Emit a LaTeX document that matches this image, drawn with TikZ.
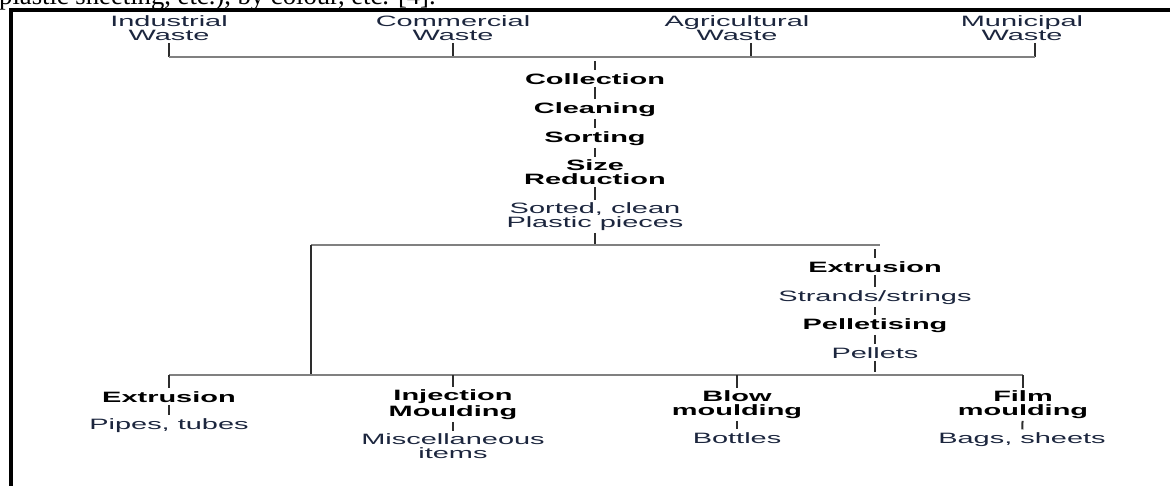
\documentclass[tikz,border=0pt]{standalone}
\usepackage{fontspec}
\setsansfont{Liberation Sans}[FakeStretch=1.93]
\newfontfamily\capfont{Liberation Serif}
\usetikzlibrary{positioning}
\definecolor{txtblue}{RGB}{28,38,62}
\definecolor{busgray}{RGB}{128,128,128}
\definecolor{tickgray}{RGB}{45,45,45}
\tikzset{
  stage/.style={font=\sffamily\bfseries, text=black, align=center, inner sep=0pt, outer ysep=2pt, anchor=base},
  product/.style={font=\sffamily, text=txtblue, align=center, inner sep=0pt, outer ysep=2pt, anchor=base},
%  source/.style={product, text=txtblue},
  tick/.style={draw=tickgray, line width=1.5pt},
  bus/.style={draw=busgray, line width=1.5pt}
}

\begin{document}
\begin{tikzpicture}[x=0.75pt, y=-0.75pt, font=\sffamily]
      \fontsize{11.25}{10.2}\selectfont
      \useasboundingbox (0,0) rectangle (1170,486);
      \clip (0,0) rectangle (1170,486);
      \node [anchor=base east, inner sep=0pt, font=\capfont\fontsize{20}{24}\selectfont] (cap) at (436,4) {plastic sheeting, etc.), by colour, etc. [4].};
      \draw [line width=2.4pt] (1170,10) -- (11,10) -- (11,486);
      % sources (base = last line)
      \node [product] (ind) at (169,40) {Industrial\\Waste};
      \node [product] (com) at (453,40) {Commercial\\Waste};
      \node [product] (agr) at (737,40) {Agricultural\\Waste};
      \node [product] (mun) at (1022,40) {Municipal\\Waste};
      \coordinate (bus) at (0,57);
      \coordinate (indT) at (ind.south);
      \coordinate (comT) at (com.south);
      \coordinate (agrT) at ([xshift=10.5pt]agr.south);
      \coordinate (munT) at ([xshift=9.75pt]mun.south);
      \foreach \n in {indT,comT,agrT,munT}
        \draw [tick] (\n) -- (\n |- bus);
      \draw [bus] (indT |- bus) -- (munT |- bus);
      % treatment
      \node [stage] (col) at (595,84) {Collection};
      \node [stage] (cle) at (595,113) {Cleaning};
      \node [stage] (sor) at (595,142) {Sorting};
      \node [stage] (siz) at (595,184) {Size\\Reduction};
      \node [product] (spp) at (595,227) {Sorted, clean\\Plastic pieces};
      \draw [tick, shorten <=3pt] (col |- bus) -- (col);
      \foreach \a/\b in {col/cle,cle/sor,sor/siz,siz/spp}
        \draw [tick] (\a) -- (\b);
      \coordinate (hub) at (0,245);
      \coordinate (base) at (0,375);
      \coordinate (lft) at (311,375);
      \draw [tick] (spp) -- (spp |- hub);
      % pellets branch
      \node [stage] (ex1) at (875,272) {Extrusion};
      \node [product] (str) at (875,301) {Strands/strings};
      \node [stage] (pel) at (875,329) {Pelletising};
      \node [product] (plt) at (875,358) {Pellets};
      \draw [bus] (lft |- hub) -- ([xshift=3.75pt]ex1 |- hub);
      \draw [tick] (lft |- hub) -- (lft);
      \draw [tick, shorten <=3pt] (ex1 |- hub) -- (ex1);
      \foreach \a/\b in {ex1/str,str/pel,pel/plt}
        \draw [tick] (\a) -- (\b);
      \draw [tick, shorten >=2pt] (plt) -- (plt |- base);
      % processes
      \node [stage] (ex2) at (169,402) {Extrusion};
      \node [product] (pip) at (169,429) {Pipes, tubes};
      \node [stage] (inj) at (453,416) {Injection\\Moulding};
      \node [product] (mis) at (453,458) {Miscellaneous\\items};
      \node [stage] (blo) at (737,415) {Blow\\moulding};
      \node [product] (bot) at (737,443) {Bottles};
      \node [stage] (fil) at (1023,415) {Film\\moulding};
      \node [product] (bag) at (1022,443) {Bags, sheets};
      \draw [bus] (ex2 |- base) -- (fil |- base);
      \foreach \n in {ex2,inj,blo,fil}
        \draw [tick] (\n |- base) -- (\n);
      \foreach \a/\b in {ex2/pip,inj/mis,blo/bot,fil/bag}
        \draw [tick] (\a) -- (\b);
    \end{tikzpicture}
\end{document}
